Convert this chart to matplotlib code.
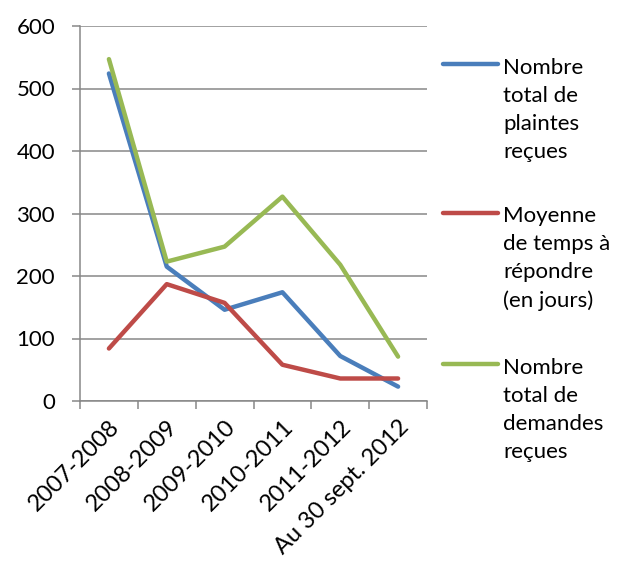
import matplotlib.pyplot as plt
from matplotlib.lines import Line2D

# -------------------------------
# DATA
# -------------------------------
periods = ["2007-2008", "2008-2009", "2009-2010", "2010-2011", "2011-2012", "Au 30 sept. 2012"]
plaintes = [524, 215, 146, 174, 72, 23]
temps_reponse = [84, 187, 157, 58, 36, 36]
demandes = [547, 223, 247, 327, 218, 71]

series_labels = ["Nombre\ntotal de\nplaintes\nreçues",
                 "Moyenne\nde temps à\nrépondre\n(en jours)",
                 "Nombre\ntotal de\ndemandes\nreçues"]
colors = ["#4A7EBB", "#BE4B48", "#98B954"]

plt.rcParams['font.family'] = ['Lato', 'DejaVu Sans']
grey = "#878787"

# -------------------------------
# FIGURE
# -------------------------------
W, H = 621, 563
fig = plt.figure(figsize=(W / 100, H / 100), dpi=100)
ax = fig.add_axes([80 / W, 1 - 401 / H, (427 - 80) / W, (401 - 26) / H])

x = list(range(len(periods)))
for vals, c in zip([plaintes, temps_reponse, demandes], colors):
    ax.plot(x, vals, color=c, lw=3.2, solid_capstyle='round', solid_joinstyle='round', zorder=3)

ax.set_xlim(-0.5, len(periods) - 0.5)
ax.set_ylim(0, 600)
ax.set_yticks(range(0, 601, 100))
ax.yaxis.grid(True, color=grey, lw=1.1)
ax.set_axisbelow(True)

# category boundaries as major ticks, labels on minor ticks
ax.set_xticks([i - 0.5 for i in range(len(periods) + 1)])
ax.set_xticklabels([])
ax.set_xticks(x, minor=True)
ax.set_xticklabels(periods, minor=True, rotation=45, ha='right', va='top',
                   rotation_mode='anchor', fontsize=17)
ax.tick_params(axis='x', which='major', length=6, width=1.1, color=grey)
ax.tick_params(axis='x', which='minor', length=0, pad=11)
ax.tick_params(axis='y', length=6, width=1.1, color=grey, pad=12, labelsize=16)

for s in ['top', 'right']:
    ax.spines[s].set_visible(False)
for s in ['left', 'bottom']:
    ax.spines[s].set_color(grey)
    ax.spines[s].set_linewidth(1.1)

# -------------------------------
# LEGEND (handle aligned with first text line)
# -------------------------------
legend_y = [64, 213, 364]
for lab, c, yy in zip(series_labels, colors, legend_y):
    fy = 1 - yy / H
    fig.add_artist(Line2D([443 / W, 498 / W], [fy, fy], color=c, lw=3.2,
                          solid_capstyle='round', transform=fig.transFigure))
    # baseline of the last line sits 3 line-steps + 8px under the handle
    fig.text(503 / W, 1 - (yy + 94) / H, lab, fontsize=16, va='baseline', ha='left',
             linespacing=1.5)

plt.savefig("out.png", dpi=100)
